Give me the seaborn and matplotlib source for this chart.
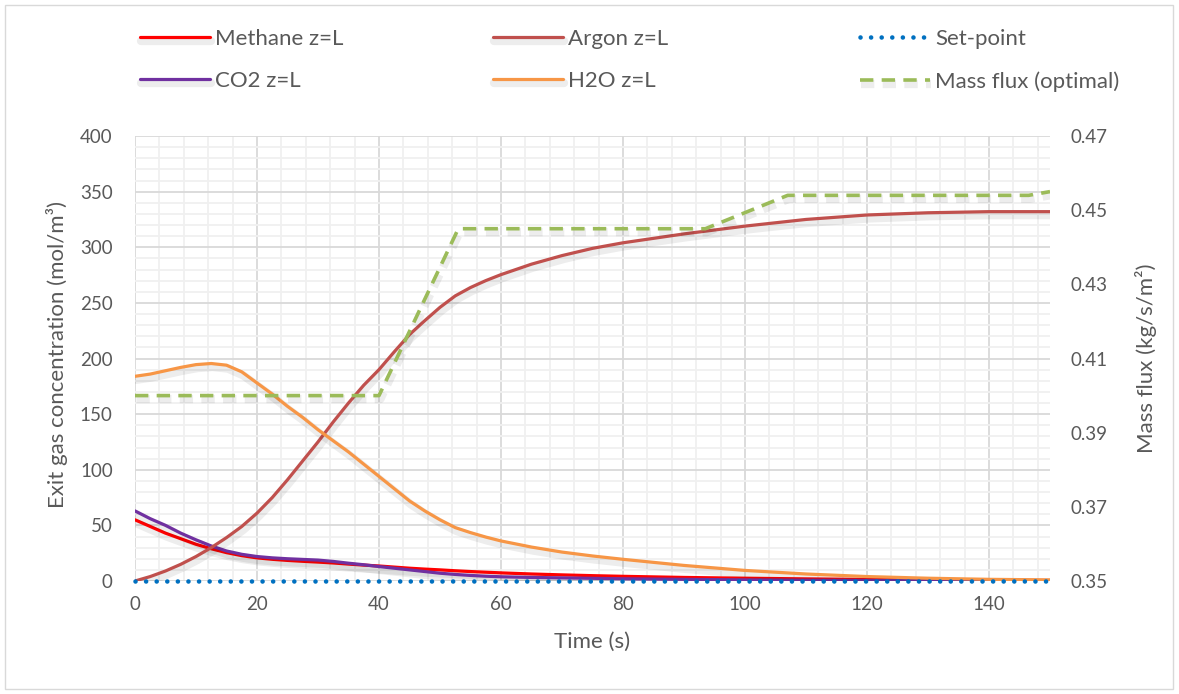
import matplotlib
matplotlib.use("Agg")
import matplotlib.pyplot as plt
import matplotlib.patheffects as pe
from matplotlib.patches import Rectangle
from matplotlib.ticker import MultipleLocator, FormatStrFormatter
import seaborn as sns

# ---------------- data ----------------
time_s = [0, 2.5, 5, 7.5, 10, 12.5, 15, 17.5, 20, 22.5, 25, 27.5, 30, 32.5, 35,
          37.5, 40, 42.5, 45, 47.5, 50, 52.5, 55, 57.5, 60, 65, 70, 75, 80, 90,
          100, 110, 120, 130, 140, 150]
methane = [55, 49, 43, 38, 33, 29, 25.5, 22.8, 20.8, 19.5, 18.5, 17.7, 17, 16.2, 15.2,
           14.3, 13.5, 12.5, 11.5, 10.7, 10, 9.2, 8.5, 7.9, 7.3, 6.3, 5.5, 4.8, 4.2, 3.2,
           2.5, 1.9, 1.4, 1.0, 0.7, 0.5]
co2 = [63, 56, 50, 43, 37, 31.5, 27, 24, 22, 20.8, 20, 19.4, 18.8, 17.6, 16,
       14.6, 13, 11.5, 10, 8.5, 7, 5.9, 5, 4.3, 3.8, 3.2, 2.8, 2.4, 2.0, 1.5,
       1.0, 0.7, 0.5, 0.3, 0.2, 0.0]
argon = [0, 4, 9, 15, 22, 30, 39, 49, 61, 75, 91, 108, 125, 143, 160,
         176, 190, 206, 221.5, 234, 246, 256.3, 263.8, 270, 275.4, 284.8, 292.5, 299, 304, 312,
         319, 325, 329, 331, 332, 332]
h2o = [184, 186, 189, 192, 194.5, 195.5, 194, 188, 178, 168, 157, 147, 136, 126, 116,
       105, 94, 83, 72, 63, 55, 48, 43.5, 39.5, 36, 30.5, 26, 22.5, 19.5, 14,
       9.5, 6.3, 4, 2.5, 1.5, 1.0]
setpoint_time = [0, 150]
setpoint = [0, 0]
flux_time = [0, 40, 53, 93.5, 107, 146.5, 150]
mass_flux = [0.400, 0.400, 0.445, 0.445, 0.454, 0.454, 0.455]

x_ticks = [0, 20, 40, 60, 80, 100, 120, 140]
y_ticks = [0, 50, 100, 150, 200, 250, 300, 350, 400]
y2_ticks = [0.35, 0.37, 0.39, 0.41, 0.43, 0.45, 0.47]

# ---------------- style ----------------
sns.set_theme(style="white")
plt.rcParams['font.family'] = ['Lato', 'DejaVu Sans']
TXT = '#595959'
FS_TICK = 13.5
FS_LAB = 16
FS_LEG = 16

W, H = 1179, 694
fig = plt.figure(figsize=(W / 100, H / 100), dpi=100)
ax = fig.add_axes([135 / W, 1 - 581 / H, 915 / W, 445 / H])
ax2 = ax.twinx()

shadow = [pe.SimpleLineShadow(offset=(1.0, -2.5), shadow_color='black', alpha=0.07,
                              linewidth=6), pe.Normal()]

series = [
    (methane, 'Methane z=L', '#FF0000'),
    (co2, 'CO2 z=L', '#7030A0'),
    (argon, 'Argon z=L', '#C0504D'),
    (h2o, 'H2O z=L', '#F79646'),
]
for vals, lab, col in series:
    sns.lineplot(x=time_s, y=vals, ax=ax, color=col, lw=2.3, label=lab,
                 legend=False, path_effects=shadow, solid_capstyle='round',
                 solid_joinstyle='round')

sns.lineplot(x=setpoint_time, y=setpoint, ax=ax, color='#0070C0', lw=3.3,
             label='Set-point', legend=False, linestyle=(0, (0.01, 2.3)),
             dash_capstyle='round', clip_on=False, zorder=5)

sns.lineplot(x=flux_time, y=mass_flux, ax=ax2, color='#9BBB59', lw=2.6,
             label='Mass flux (optimal)', legend=False,
             linestyle=(0, (3.7, 2.3)), path_effects=shadow)

# axes limits / ticks
ax.set_xlim(0, 150)
ax.set_ylim(0, 400)
ax2.set_ylim(0.35, 0.47)
ax.set_xticks(x_ticks)
ax.set_yticks(y_ticks)
ax2.set_yticks(y2_ticks)
ax2.yaxis.set_major_formatter(FormatStrFormatter('%.2f'))
ax.xaxis.set_minor_locator(MultipleLocator(4))
ax.yaxis.set_minor_locator(MultipleLocator(10))

ax.grid(which='major', color='#D9D9D9', lw=1.3)
ax.grid(which='minor', color='#F0F0F0', lw=1.3)
ax.set_axisbelow(True)
ax2.grid(False)

for a in (ax, ax2):
    for s in a.spines.values():
        s.set_visible(False)
    a.tick_params(which='both', length=0, labelsize=FS_TICK, labelcolor=TXT)
ax.tick_params(axis='y', pad=16)
ax.tick_params(axis='x', pad=11)
ax2.tick_params(axis='y', pad=15)

ax.set_xlabel('Time (s)', fontsize=FS_LAB, color=TXT)
ax.set_ylabel('Exit gas concentration (mol/m³)', fontsize=FS_LAB, color=TXT)
ax2.set_ylabel('Mass flux (kg/s/m²)', fontsize=FS_LAB, color=TXT, rotation=90)
ax.xaxis.set_label_coords(0.5, -0.115)
ax.yaxis.set_label_coords(-0.073, 0.51)
ax2.yaxis.set_label_coords(1.093, 0.5)

# legend: three columns of two rows each
h1 = {l.get_label(): l for l in ax.get_lines()}
h1.update({l.get_label(): l for l in ax2.get_lines()})
cols = [(['Methane z=L', 'CO2 z=L'], 140),
        (['Argon z=L', 'H2O z=L'], 493),
        (['Set-point', 'Mass flux (optimal)'], 860)]
for labs, xpx in cols:
    leg = fig.legend([h1[l] for l in labs], labs, loc='upper left',
                     bbox_to_anchor=(xpx / W, 1 - 29 / H), frameon=False,
                     fontsize=FS_LEG, handlelength=3.15, handletextpad=0.23,
                     labelspacing=1.0, borderpad=0, borderaxespad=0)
    for t in leg.get_texts():
        t.set_color(TXT)

fig.patches.append(Rectangle((5 / W, 5 / H), (1173 - 5) / W, (689 - 5) / H,
                             transform=fig.transFigure, fill=False,
                             edgecolor='#D9D9D9', lw=1))

fig.savefig('out.png', dpi=100, facecolor='white')
